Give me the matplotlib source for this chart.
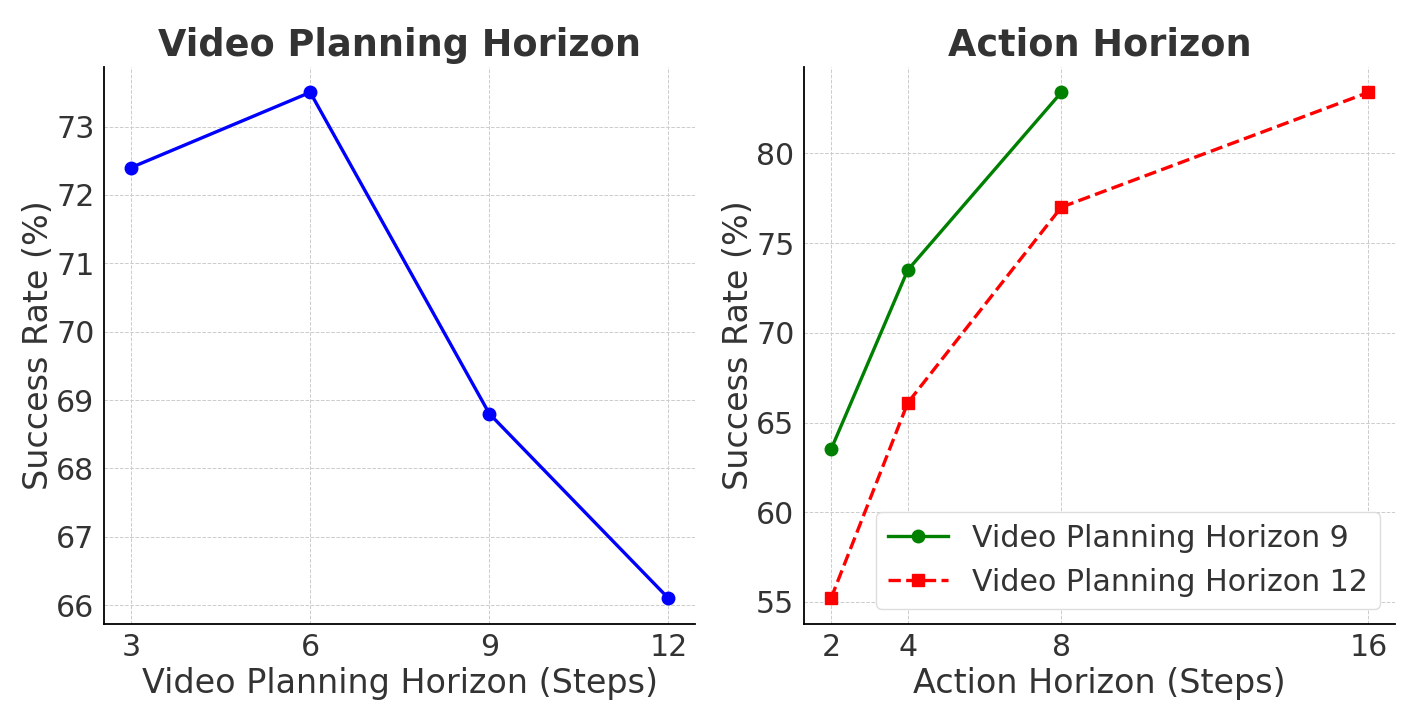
import numpy as np
import matplotlib.pyplot as plt

# left panel: video planning horizon
vph_steps = [3, 6, 9, 12]
vph_success = [72.4, 73.5, 68.8, 66.1]

# right panel: action horizon
ah_steps_9 = [2, 4, 8]
ah_success_9 = [63.5, 73.5, 83.4]
ah_steps_12 = [2, 4, 8, 16]
ah_success_12 = [55.2, 66.1, 77.0, 83.4]

text_color = '#333333'
plt.rcParams['text.color'] = text_color
plt.rcParams['axes.labelcolor'] = text_color
plt.rcParams['xtick.color'] = text_color
plt.rcParams['ytick.color'] = text_color

fig, (ax1, ax2) = plt.subplots(1, 2, figsize=(14.08, 7.21), dpi=100)
fig.subplots_adjust(left=0.074, right=0.991, bottom=0.135, top=0.907, wspace=0.184)

ax1.plot(vph_steps, vph_success, color='blue', marker='o', linewidth=2.4, markersize=9)
ax1.set_title('Video Planning Horizon', fontsize=26.4, fontweight='bold', pad=8)
ax1.set_xlabel('Video Planning Horizon (Steps)', fontsize=24, labelpad=3)
ax1.set_ylabel('Success Rate (%)', fontsize=24, labelpad=1)
ax1.set_xticks(vph_steps)

ax2.plot(ah_steps_9, ah_success_9, color='green', marker='o', linewidth=2.4,
         markersize=9, label='Video Planning Horizon 9')
ax2.plot(ah_steps_12, ah_success_12, color='red', marker='s', linestyle='--',
         linewidth=2.4, markersize=9, label='Video Planning Horizon 12')
ax2.set_title('Action Horizon', fontsize=26.4, fontweight='bold', pad=8)
ax2.set_xlabel('Action Horizon (Steps)', fontsize=24, labelpad=3)
ax2.set_ylabel('Success Rate (%)', fontsize=24, labelpad=1)
ax2.set_xticks(ah_steps_12)
ax2.legend(loc='lower right', fontsize=21.6, framealpha=1, edgecolor='#dddddd')

for ax in (ax1, ax2):
    ax.grid(True, linestyle='--', linewidth=0.7, color='#cccccc')
    ax.spines['top'].set_visible(False)
    ax.spines['right'].set_visible(False)
    ax.spines['left'].set_linewidth(1.3)
    ax.spines['bottom'].set_linewidth(1.3)
    ax.tick_params(labelsize=21.6, length=0, pad=7)

fig.savefig('out.png', dpi=100)
